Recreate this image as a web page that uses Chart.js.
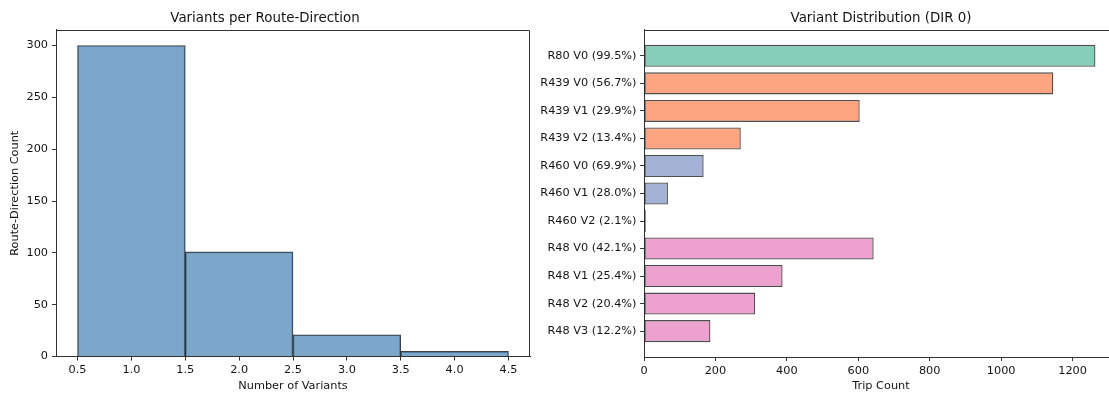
<!DOCTYPE html>
<html>
<head>
<meta charset="utf-8">
<title>Route Variants</title>
<script src="https://cdn.jsdelivr.net/npm/chart.js@4.4.1/dist/chart.umd.min.js"></script>
<style>
  html, body {
    margin: 0;
    padding: 0;
    background: #ffffff;
    overflow: hidden;
  }
  .page {
    position: relative;
    width: 1109px;
    height: 394px;
    overflow: hidden;
  }
  #variantHist {
    position: absolute;
    left: 0;
    top: 0;
  }
  #variantDist {
    position: absolute;
    left: 540px;
    top: 0;
  }
</style>
</head>
<body>
<div class="page">
  <canvas id="variantHist" width="540" height="394"></canvas>
  <canvas id="variantDist" width="579" height="394"></canvas>
</div>

<script>
// Histogram: number of variants per route-direction
const variantBins = [1, 2, 3, 4];
const routeDirCounts = [300, 101, 21, 5];
const histTicksX = [0.5, 1.0, 1.5, 2.0, 2.5, 3.0, 3.5, 4.0, 4.5];
const histTicksY = [0, 50, 100, 150, 200, 250, 300];

// Trip counts per variant, DIR 0
const variantLabels = [
  'R80 V0 (99.5%)',
  'R439 V0 (56.7%)',
  'R439 V1 (29.9%)',
  'R439 V2 (13.4%)',
  'R460 V0 (69.9%)',
  'R460 V1 (28.0%)',
  'R460 V2 (2.1%)',
  'R48 V0 (42.1%)',
  'R48 V1 (25.4%)',
  'R48 V2 (20.4%)',
  'R48 V3 (12.2%)'
];
const variantRoutes = ['R80', 'R439', 'R439', 'R439', 'R460', 'R460', 'R460', 'R48', 'R48', 'R48', 'R48'];
const tripCounts = [1264, 1146, 604, 271, 167, 67, 5, 643, 388, 311, 186];
const tripTicks = [0, 200, 400, 600, 800, 1000, 1200];

// Set2-like palette, one colour per route
const routeColors = {
  R80: 'rgba(102, 194, 165, 0.8)',
  R439: 'rgba(252, 141, 98, 0.8)',
  R460: 'rgba(141, 160, 203, 0.8)',
  R48: 'rgba(231, 138, 195, 0.8)'
};

const FONT = 'DejaVu Sans';
const TEXT = '#141414';
const SPINE = '#333333';
const TICK_SIZE = 11.3;
const TITLE_SIZE = 13.4;

Chart.defaults.font.family = FONT;
Chart.defaults.color = TEXT;

/**
 * Strokes the spines that are not covered by a scale border
 */
const framePlugin = {
  id: 'frame',
  afterDraw(chart, args, opts) {
    const { ctx, chartArea } = chart;
    const sides = opts.sides || [];
    const l = Math.round(chartArea.left) + 0.5;
    const r = Math.round(chartArea.right) - 0.5;
    const t = Math.round(chartArea.top) + 0.5;
    const b = Math.round(chartArea.bottom) - 0.5;
    ctx.save();
    ctx.strokeStyle = SPINE;
    ctx.lineWidth = 1;
    ctx.beginPath();
    if (sides.includes('top')) {
      ctx.moveTo(l, t);
      ctx.lineTo(r, t);
    }
    if (sides.includes('right')) {
      ctx.moveTo(r, t);
      ctx.lineTo(r, b);
    }
    ctx.stroke();
    ctx.restore();
  }
};

function tickGrid() {
  return {
    display: true,
    offset: false,
    drawOnChartArea: false,
    drawTicks: true,
    tickLength: 4,
    color: SPINE,
    lineWidth: 1
  };
}

function spine() {
  return { display: true, color: SPINE, width: 1 };
}

function titleOpts(text) {
  return {
    display: true,
    text: text,
    color: TEXT,
    font: { family: FONT, size: TITLE_SIZE, weight: 'normal', lineHeight: 1.2 },
    padding: { top: 10.5, bottom: 3.4 }
  };
}

/**
 * Left panel: histogram of variant counts
 */
function initVariantHistogram() {
  const ctx = document.getElementById('variantHist').getContext('2d');

  new Chart(ctx, {
    type: 'bar',
    data: {
      datasets: [{
        label: 'Route-Direction Count',
        data: variantBins.map((b, i) => ({ x: b, y: routeDirCounts[i] })),
        xAxisID: 'bins',
        backgroundColor: 'rgba(70, 130, 180, 0.7)',
        borderColor: 'rgba(0, 0, 0, 0.75)',
        borderWidth: 1,
        borderSkipped: 'start',
        barPercentage: 1,
        categoryPercentage: 1
      }]
    },
    options: {
      responsive: false,
      animation: false,
      devicePixelRatio: 1,
      layout: { padding: { left: 0, right: 10, top: 0, bottom: 0 } },
      plugins: {
        legend: { display: false },
        tooltip: { enabled: false },
        title: titleOpts('Variants per Route-Direction'),
        frame: { sides: ['top', 'right'] }
      },
      scales: {
        // hidden axis that carries the bins, one unit apart
        bins: {
          type: 'linear',
          position: 'bottom',
          display: false,
          offset: false,
          min: 0.3,
          max: 4.7,
          afterBuildTicks: (axis) => {
            axis.ticks = variantBins.map(v => ({ value: v }));
          }
        },
        x: {
          type: 'linear',
          position: 'bottom',
          offset: false,
          min: 0.3,
          max: 4.7,
          grid: tickGrid(),
          border: spine(),
          afterBuildTicks: (axis) => {
            axis.ticks = histTicksX.map(v => ({ value: v }));
          },
          afterFit: (scale) => { scale.height = 37.5; },
          ticks: {
            padding: 3,
            maxRotation: 0,
            autoSkip: false,
            font: { size: TICK_SIZE },
            callback: (v) => Number(v).toFixed(1)
          },
          title: {
            display: true,
            text: 'Number of Variants',
            font: { size: TICK_SIZE, lineHeight: 1.2 },
            padding: { top: 0, bottom: 1 }
          }
        },
        y: {
          type: 'linear',
          offset: false,
          min: 0,
          max: 315,
          grid: tickGrid(),
          border: spine(),
          afterBuildTicks: (axis) => {
            axis.ticks = histTicksY.map(v => ({ value: v }));
          },
          afterFit: (scale) => { scale.width = 56; },
          ticks: {
            padding: 4,
            font: { size: TICK_SIZE },
            callback: (v) => String(v)
          },
          title: {
            display: true,
            text: 'Route-Direction Count',
            font: { size: TICK_SIZE, lineHeight: 1.2 },
            padding: { top: 8.2, bottom: 0 }
          }
        }
      }
    },
    plugins: [framePlugin]
  });
}

/**
 * Right panel: horizontal bars of trip counts per variant
 */
function initVariantDistribution() {
  const ctx = document.getElementById('variantDist').getContext('2d');
  const lastIndex = variantLabels.length - 1;

  new Chart(ctx, {
    type: 'bar',
    data: {
      datasets: [{
        label: 'Trip Count',
        data: tripCounts.map((c, i) => ({ x: c, y: i })),
        backgroundColor: variantRoutes.map(r => routeColors[r]),
        borderColor: 'rgba(20, 20, 20, 0.75)',
        borderWidth: 1.3,
        borderSkipped: false,
        barPercentage: 0.8,
        categoryPercentage: 1
      }]
    },
    options: {
      indexAxis: 'y',
      responsive: false,
      animation: false,
      devicePixelRatio: 1,
      layout: { padding: { left: 0, right: 1, top: 0, bottom: 0 } },
      plugins: {
        legend: { display: false },
        tooltip: { enabled: false },
        title: Object.assign(titleOpts('Variant Distribution (DIR 0)'), { fullSize: false }),
        frame: { sides: ['top'] }
      },
      scales: {
        x: {
          type: 'linear',
          offset: false,
          min: 0,
          max: tripCounts[0] * 1.05,
          grid: tickGrid(),
          border: spine(),
          afterBuildTicks: (axis) => {
            axis.ticks = tripTicks.map(v => ({ value: v }));
          },
          afterFit: (scale) => { scale.height = 37; },
          ticks: {
            padding: 3,
            maxRotation: 0,
            autoSkip: false,
            font: { size: TICK_SIZE },
            callback: (v) => String(v)
          },
          title: {
            display: true,
            text: 'Trip Count',
            font: { size: TICK_SIZE, lineHeight: 1.2 },
            padding: { top: 0, bottom: 1 }
          }
        },
        y: {
          type: 'linear',
          offset: false,
          reverse: true,
          min: -0.94,
          max: lastIndex + 0.94,
          grid: tickGrid(),
          border: spine(),
          afterBuildTicks: (axis) => {
            axis.ticks = variantLabels.map((_, i) => ({ value: i }));
          },
          afterFit: (scale) => { scale.width = 104; },
          ticks: {
            padding: 3.5,
            autoSkip: false,
            font: { size: TICK_SIZE },
            callback: (v) => variantLabels[v]
          }
        }
      }
    },
    plugins: [framePlugin]
  });
}

document.addEventListener('DOMContentLoaded', function() {
  initVariantHistogram();
  initVariantDistribution();
});
</script>
</body>
</html>
